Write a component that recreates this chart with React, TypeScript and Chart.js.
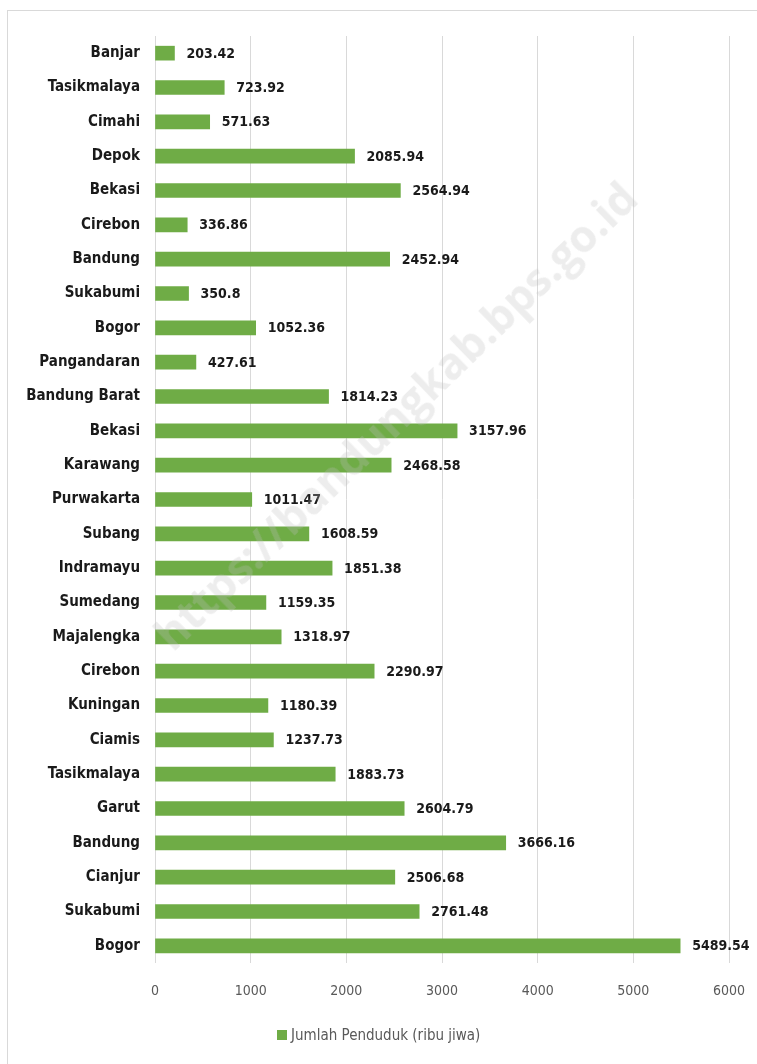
import React, { useEffect, useRef } from "react";
import { Chart, registerables } from "chart.js";

Chart.register(...registerables);

const categories: string[] = [
  "Banjar", "Tasikmalaya", "Cimahi", "Depok", "Bekasi", "Cirebon", "Bandung", "Sukabumi", "Bogor",
  "Pangandaran", "Bandung Barat", "Bekasi", "Karawang", "Purwakarta", "Subang", "Indramayu",
  "Sumedang", "Majalengka", "Cirebon", "Kuningan", "Ciamis", "Tasikmalaya", "Garut", "Bandung",
  "Cianjur", "Sukabumi", "Bogor",
];

const populationValues: number[] = [
  203.42, 723.92, 571.63, 2085.94, 2564.94, 336.86, 2452.94, 350.8, 1052.36,
  427.61, 1814.23, 3157.96, 2468.58, 1011.47, 1608.59, 1851.38,
  1159.35, 1318.97, 2290.97, 1180.39, 1237.73, 1883.73, 2604.79, 3666.16,
  2506.68, 2761.48, 5489.54,
];

const valueLabels: string[] = [
  "203.42", "723.92", "571.63", "2085.94", "2564.94", "336.86", "2452.94", "350.8", "1052.36",
  "427.61", "1814.23", "3157.96", "2468.58", "1011.47", "1608.59", "1851.38",
  "1159.35", "1318.97", "2290.97", "1180.39", "1237.73", "1883.73", "2604.79", "3666.16",
  "2506.68", "2761.48", "5489.54",
];

const seriesName = "Jumlah Penduduk (ribu jiwa)";
const xTickValues: number[] = [0, 1000, 2000, 3000, 4000, 5000, 6000];
const xTickLabels: string[] = ["0", "1000", "2000", "3000", "4000", "5000", "6000"];

const FONT = "'Liberation Sans Narrow', 'DejaVu Sans Condensed', 'Open Sans', sans-serif";
const BAR_COLOR = "#6fac46";

const valueLabelPlugin = {
  id: "valueLabels",
  afterDatasetsDraw(chart: any) {
    const ctx = chart.ctx;
    const meta = chart.getDatasetMeta(0);
    ctx.save();
    ctx.font = `600 14px ${FONT}`;
    ctx.fillStyle = "#1a1a1a";
    ctx.textBaseline = "middle";
    ctx.textAlign = "left";
    meta.data.forEach((bar: any, i: number) => {
      ctx.fillText(valueLabels[i], bar.x + 12, bar.y + 1);
    });
    ctx.restore();
  },
};

export default function App() {
  const canvasRef = useRef<HTMLCanvasElement | null>(null);

  useEffect(() => {
    if (!canvasRef.current) return;
    const chart = new Chart(canvasRef.current, {
      type: "bar",
      data: {
        labels: categories,
        datasets: [
          {
            label: seriesName,
            data: populationValues,
            backgroundColor: BAR_COLOR,
            borderWidth: 0,
            barThickness: 14,
          },
        ],
      },
      options: {
        indexAxis: "y",
        animation: false,
        responsive: false,
        maintainAspectRatio: false,
        layout: { padding: { left: 0, right: 28, top: 36, bottom: 46 } },
        plugins: {
          legend: { display: false },
          tooltip: { enabled: false },
        },
        scales: {
          x: {
            min: 0,
            max: 6000,
            afterBuildTicks: (scale: any) => {
              scale.ticks = xTickValues.map((v) => ({ value: v }));
            },
            afterFit: (scale: any) => {
              scale.height = 55;
              scale.paddingLeft = 0;
              scale.paddingRight = 0;
            },
            grid: { color: "#d9d9d9", drawTicks: false },
            border: { display: false },
            ticks: {
              color: "#595959",
              font: { family: FONT, size: 14 },
              padding: 20,
              callback: (_v: any, i: number) => xTickLabels[i],
            },
          },
          y: {
            afterFit: (scale: any) => {
              scale.width = 155;
              scale.paddingTop = 0;
              scale.paddingBottom = 0;
            },
            grid: { display: false, drawTicks: false },
            border: { display: false },
            ticks: {
              color: "#1a1a1a",
              font: { family: FONT, size: 15, weight: "600" },
              padding: 15,
              autoSkip: false,
            },
          },
        },
      },
      plugins: [valueLabelPlugin],
    } as any);
    return () => chart.destroy();
  }, []);

  return (
    <div
      style={{
        position: "fixed",
        left: 0,
        top: 0,
        width: 757,
        height: 1064,
        background: "#ffffff",
        overflow: "hidden",
      }}
    >
      <div
        style={{
          position: "absolute",
          left: 7,
          top: 10,
          width: 800,
          height: 1100,
          border: "1px solid #d9d9d9",
          boxSizing: "border-box",
        }}
      />
      <canvas
        ref={canvasRef}
        width={757}
        height={1064}
        style={{ position: "absolute", left: 0, top: 0, width: 757, height: 1064 }}
      />
      <div
        style={{
          position: "absolute",
          left: 277,
          top: 1025,
          height: 20,
          display: "flex",
          alignItems: "center",
          whiteSpace: "nowrap",
          fontFamily: FONT,
          fontSize: 15,
          color: "#595959",
        }}
      >
        <span
          style={{
            display: "inline-block",
            width: 10,
            height: 10,
            background: BAR_COLOR,
            marginRight: 4,
          }}
        />
        <span>{seriesName}</span>
      </div>
      <div
        style={{
          position: "absolute",
          left: 395,
          top: 415,
          transform: "translate(-50%, -50%) rotate(-44deg)",
          whiteSpace: "nowrap",
          fontFamily: "'Open Sans', sans-serif",
          fontWeight: 700,
          fontSize: 44,
          color: "rgba(190,190,190,0.28)",
          pointerEvents: "none",
        }}
      >
        https://bandungkab.bps.go.id
      </div>
    </div>
  );
}
